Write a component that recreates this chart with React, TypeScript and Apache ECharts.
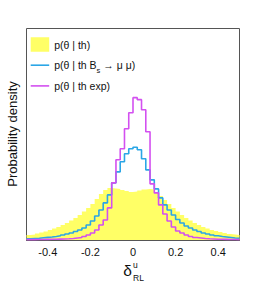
import React, { useEffect, useRef } from "react";
import * as echarts from "echarts";

// Histogram binning (50 bins from -0.5 to 0.5)
const binLow = -0.5;
const binWidth = 0.02;

// p(θ | th) — yellow filled histogram (arbitrary density units)
const thDensity = [
  5, 5.5, 6.5, 7.5, 8.5, 10, 11.5, 13, 15, 17,
  19.5, 22, 25, 28.5, 32, 36, 41, 46, 50, 52,
  51.5, 51, 50, 49, 48, 48.5, 49.5, 50.5, 51, 50.5,
  47.5, 44, 40, 36, 32, 28.5, 25, 22, 19.5, 17,
  15, 13, 11.5, 10, 9, 8, 7, 6, 5.5, 5,
];

// p(θ | th Bs → μ μ) — blue line histogram
const thBsDensity = [
  1.2, 1.5, 1.8, 2.2, 2.6, 3, 3.5, 4.2, 5, 6,
  7, 8.5, 10, 12, 15, 19, 24, 30, 37, 45,
  57, 68, 78, 86, 91, 92.5, 90, 81, 70, 60,
  51, 42, 35, 30, 25, 20.5, 17, 14, 12, 10,
  8.5, 7, 6, 5, 4.2, 3.5, 3, 2.5, 2, 1.7,
];

// p(θ | th exp) — magenta line histogram
const thExpDensity = [
  0.4, 0.4, 0.5, 0.5, 0.6, 0.7, 0.8, 0.9, 1, 1.2,
  1.5, 2, 2.5, 3.5, 5, 7, 10, 15, 20, 32,
  57, 80, 91, 111, 127, 142, 140, 130, 108, 56,
  47, 35, 26, 19, 13, 9, 7, 5, 3.5, 2.5,
  2, 1.5, 1.2, 1, 0.8, 0.7, 0.6, 0.5, 0.5, 0.4,
];

const xTickLabels = [-0.4, -0.2, 0, 0.2, 0.4];
const seriesNames = ["p(θ | th)", "p(θ | th Bs → μ μ)", "p(θ | th exp)"];

const FONT = "'Liberation Sans', Arial, Helvetica, sans-serif";
const YELLOW = "#ffff66";
const BLUE = "#2ba6e6";
const MAGENTA = "#d350f0";
const LINE_ICON = "path://M0,0H185V16H0Z";

function toSteps(vals: number[]): number[][] {
  const pts = vals.map((v, i) => [+(binLow + i * binWidth).toFixed(4), v]);
  pts.push([+(binLow + vals.length * binWidth).toFixed(4), vals[vals.length - 1]]);
  return pts;
}

const GRID = { left: 26.5, right: 26.5, top: 28.5, bottom: 43 };

export default function App() {
  const ref = useRef<HTMLDivElement>(null);
  useEffect(() => {
    if (!ref.current) return;
    const chart = echarts.init(ref.current, null, { renderer: "svg" });
    chart.setOption({
      animation: false,
      backgroundColor: "#ffffff",
      grid: [
        { ...GRID, show: true, borderColor: "#555", borderWidth: 1, backgroundColor: "transparent" },
        { ...GRID, show: false },
      ],
      xAxis: [
        {
          type: "value",
          gridIndex: 0,
          min: -0.5,
          max: 0.5,
          interval: 0.05,
          axisLine: { show: true, lineStyle: { color: "#555", width: 1 } },
          axisTick: { show: true, inside: true, length: 3, lineStyle: { color: "#333" } },
          axisLabel: { show: false },
          splitLine: { show: false },
        },
        {
          type: "value",
          gridIndex: 1,
          min: -0.5,
          max: 0.5,
          interval: 0.1,
          axisLine: { show: false },
          axisTick: {
            show: true,
            inside: true,
            length: 6,
            customValues: xTickLabels,
            lineStyle: { color: "#333" },
          },
          axisLabel: {
            show: true,
            customValues: xTickLabels,
            margin: 6,
            fontFamily: FONT,
            fontSize: 11,
            color: "#111",
            formatter: (v: number) => (Math.abs(v) < 1e-9 ? "0" : v.toFixed(1)),
          },
          splitLine: { show: false },
        },
      ],
      yAxis: [
        {
          type: "value",
          gridIndex: 0,
          min: 0,
          max: 211,
          axisLine: { show: false },
          axisTick: { show: false },
          axisLabel: { show: false },
          splitLine: { show: false },
        },
        {
          type: "value",
          gridIndex: 1,
          min: 0,
          max: 211,
          show: false,
        },
      ],
      legend: {
        orient: "vertical",
        left: 25.7,
        top: 30.5,
        padding: 5,
        itemWidth: 18.5,
        itemHeight: 14.5,
        itemGap: 2.7,
        selectedMode: false,
        symbolKeepAspect: true,
        data: [
          { name: seriesNames[0], icon: "rect", itemStyle: { color: YELLOW } },
          { name: seriesNames[1], icon: LINE_ICON, itemStyle: { color: BLUE } },
          { name: seriesNames[2], icon: LINE_ICON, itemStyle: { color: MAGENTA } },
        ],
        textStyle: {
          fontFamily: FONT,
          fontSize: 10.5,
          color: "#111",
          lineHeight: 18,
          rich: {
            sub: { fontFamily: FONT, fontSize: 7.5, lineHeight: 6, verticalAlign: "bottom", color: "#111" },
          },
        },
        formatter: (name: string) =>
          name === seriesNames[1] ? "p(θ | th B{sub|s} → μ μ)" : name,
      },
      series: [
        {
          name: seriesNames[0],
          type: "line",
          xAxisIndex: 0,
          yAxisIndex: 0,
          step: "end",
          symbol: "none",
          showSymbol: false,
          data: toSteps(thDensity),
          itemStyle: { color: YELLOW },
          lineStyle: { width: 0, color: YELLOW },
          areaStyle: { color: YELLOW, opacity: 1 },
          z: 1,
        },
        {
          name: seriesNames[1],
          type: "line",
          xAxisIndex: 0,
          yAxisIndex: 0,
          step: "end",
          symbol: "none",
          showSymbol: false,
          data: toSteps(thBsDensity),
          itemStyle: { color: BLUE },
          lineStyle: { width: 1.6, color: BLUE },
          z: 2,
        },
        {
          name: seriesNames[2],
          type: "line",
          xAxisIndex: 0,
          yAxisIndex: 0,
          step: "end",
          symbol: "none",
          showSymbol: false,
          data: toSteps(thExpDensity),
          itemStyle: { color: MAGENTA },
          lineStyle: { width: 1.6, color: MAGENTA },
          z: 3,
        },
      ],
      graphic: [
        {
          type: "text",
          x: 12,
          y: 134,
          rotation: Math.PI / 2,
          style: {
            text: "Probability density",
            fontFamily: FONT,
            fontSize: 13,
            fill: "#111",
            align: "center",
            verticalAlign: "middle",
          },
        },
        {
          type: "text",
          x: 127.5,
          y: 270.5,
          style: {
            text: "δ",
            fontFamily: FONT,
            fontSize: 15.5,
            fill: "#111",
            align: "center",
            verticalAlign: "middle",
          },
        },
        {
          type: "text",
          x: 133,
          y: 264.5,
          style: {
            text: "u",
            fontFamily: FONT,
            fontSize: 8.5,
            fill: "#111",
            align: "left",
            verticalAlign: "middle",
          },
        },
        {
          type: "text",
          x: 133,
          y: 277.5,
          style: {
            text: "RL",
            fontFamily: FONT,
            fontSize: 8.5,
            fill: "#111",
            align: "left",
            verticalAlign: "middle",
          },
        },
      ],
    });
    return () => chart.dispose();
  }, []);
  return <div ref={ref} style={{ width: 266, height: 283, position: "absolute", left: 0, top: 0 }} />;
}
